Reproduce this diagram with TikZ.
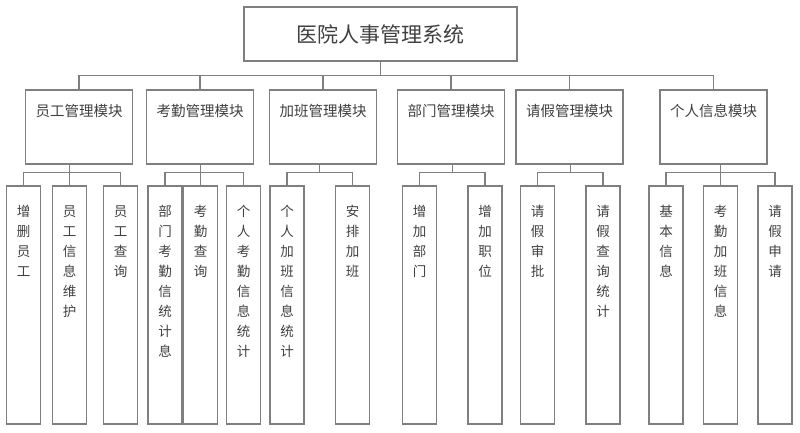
\documentclass[tikz,border=0pt]{standalone}
\usepackage{fontspec}
\setmainfont{Noto Sans CJK SC}
\usetikzlibrary{calc}
\definecolor{vonal}{HTML}{7F7F7F}
\definecolor{betu}{HTML}{404040}
\tikzset{
  fo/.style={draw=vonal,line width=1.3pt,minimum width=273pt,minimum height=54pt,
    font=\fontsize{21}{24}\selectfont,text=betu},
  modul/.style={draw=vonal,line width=1.3pt,minimum width=107pt,minimum height=74pt},
  al/.style={draw=vonal,line width=1.3pt,minimum width=34pt,minimum height=238pt},
  mfel/.style={anchor=center,yshift=-22pt,inner sep=0pt,text=betu,
    font=\fontsize{14.5}{16}\selectfont},
  afel/.style={anchor=north,yshift=-20pt,inner sep=0pt,align=center,text=betu,
    font=\fontsize{13.5}{20}\selectfont},
  ag/.style={draw=vonal,line width=1.1pt},
}

\begin{document}
\begin{tikzpicture}[x=1pt,y=-1pt]
  \useasboundingbox (0,0) rectangle (800,433);
  \node[fo] (sys) at (380.5,34) {医院人事管理系统};
  % modulok
  \node[modul,label={[mfel]north:员工管理模块}] (m1) at (79,127) {};
  \node[modul,label={[mfel]north:考勤管理模块}] (m2) at (200,127) {};
  \node[modul,label={[mfel]north:加班管理模块}] (m3) at (323,127) {};
  \node[modul,label={[mfel]north:部门管理模块}] (m4) at (451,127) {};
  \node[modul,label={[mfel]north:请假管理模块}] (m5) at (569.5,127) {};
  \node[modul,label={[mfel]north:个人信息模块}] (m6) at (713.5,127) {};
  % also
  \node[al,label={[afel]north:{增\\删\\员\\工}}] (s1a) at (23.5,305) {};
  \node[al,label={[afel]north:{员\\工\\信\\息\\维\\护}}] (s1b) at (69.5,305) {};
  \node[al,label={[afel]north:{员\\工\\查\\询}}] (s1c) at (120.5,305) {};
  \node[al,label={[afel]north:{部\\门\\考\\勤\\信\\统\\计\\息}}] (s2a) at (165,305) {};
  \node[al,label={[afel]north:{考\\勤\\查\\询}}] (s2b) at (200.5,305) {};
  \node[al,label={[afel]north:{个\\人\\考\\勤\\信\\息\\统\\计}}] (s2c) at (243.5,305) {};
  \node[al,label={[afel]north:{个\\人\\加\\班\\信\\息\\统\\计}}] (s3a) at (287,305) {};
  \node[al,label={[afel]north:{安\\排\\加\\班}}] (s3b) at (352.5,305) {};
  \node[al,label={[afel]north:{增\\加\\部\\门}}] (s4a) at (419.5,305) {};
  \node[al,label={[afel]north:{增\\加\\职\\位}}] (s4b) at (485,305) {};
  \node[al,label={[afel]north:{请\\假\\审\\批}}] (s5a) at (537.5,305) {};
  \node[al,label={[afel]north:{请\\假\\查\\询\\统\\计}}] (s5b) at (603,305) {};
  \node[al,label={[afel]north:{基\\本\\信\\息}}] (s6a) at (666,305) {};
  \node[al,label={[afel]north:{考\\勤\\加\\班\\信\\息}}] (s6b) at (720.5,305) {};
  \node[al,label={[afel]north:{请\\假\\申\\请}}] (s6c) at (775,305) {};
  % vonalak
  \draw[ag] (sys.south) -- ++(0,14) coordinate (bus);
  \draw[ag] (m1.north) -- (m1.north |- bus) -- (m6.north |- bus) -- (m6.north);
  \foreach \m in {m2,m3,m4,m5} \draw[ag] (\m.north) -- (\m.north |- bus);
  \draw[ag] (s1a.north) -- ++(0,-13) -| (s1c.north);
  \draw[ag] (s1b.north) -- (s1b.north |- m1.south);
  \draw[ag] (s2a.north) -- ++(0,-13) -| (s2c.north);
  \draw[ag] (s2b.north) -- (s2b.north |- m2.south);
  \draw[ag] (s6a.north) -- ++(0,-13) -| (s6c.north);
  \draw[ag] (s6b.north) -- (s6b.north |- m6.south);
  \foreach \g in {3,4,5} {
    \draw[ag] (s\g a.north) -- ++(0,-13) -| (s\g b.north);
    \coordinate (k\g) at ($(s\g a.north)!.5!(s\g b.north)+(0,-13)$);
    \draw[ag] (k\g) -- (k\g |- m\g.south);
  }
\end{tikzpicture}
\end{document}
